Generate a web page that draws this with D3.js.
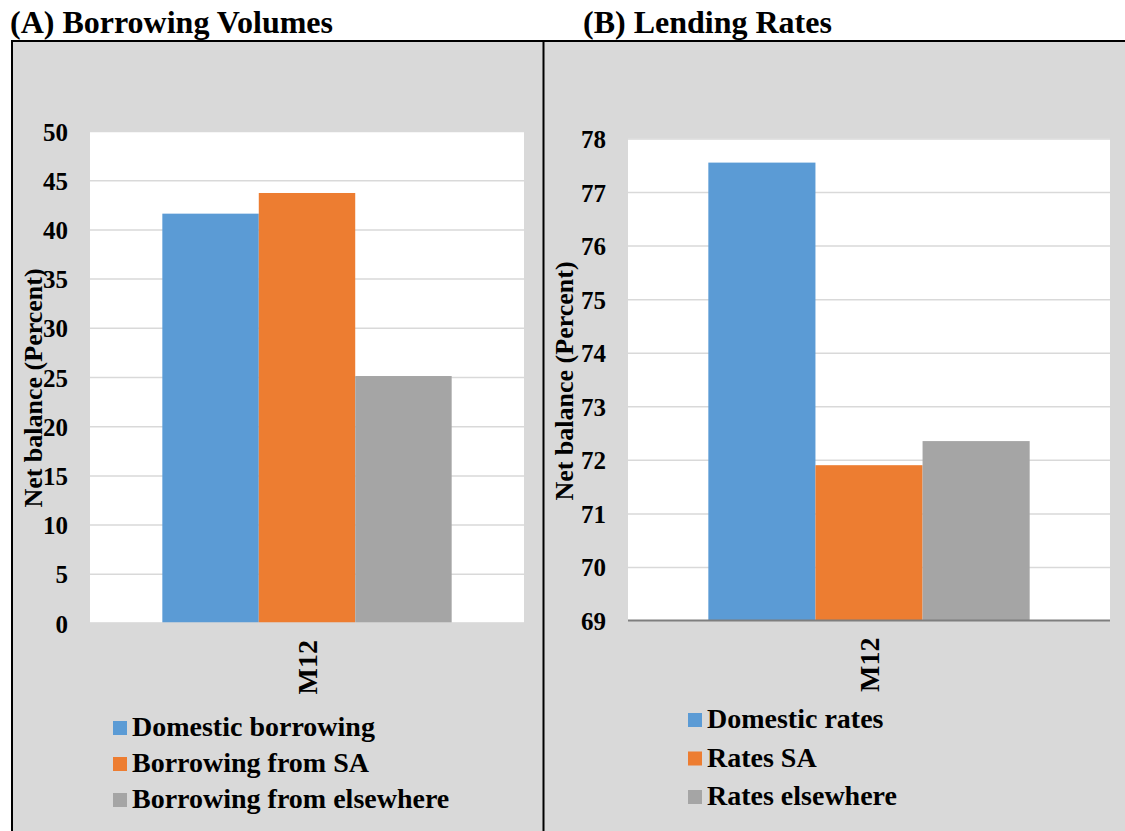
<!DOCTYPE html>
<html>
<head>
<meta charset="utf-8">
<script src="https://cdn.jsdelivr.net/npm/d3@7/dist/d3.min.js"></script>
<style>
  html, body { margin: 0; padding: 0; background: #ffffff; }
  svg { display: block; }
  text { font-family: "Liberation Serif", "Times New Roman", serif; font-weight: bold; fill: #000; }
</style>
</head>
<body>
<svg id="chart" width="1125" height="831"></svg>
<script>
// ---- data ----
const categories = ["M12"];
const seriesColors = ["#5b9bd5", "#ed7d31", "#a5a5a5"];

const borrowingTitle = "(A) Borrowing Volumes";
const borrowingSeries = ["Domestic borrowing", "Borrowing from SA", "Borrowing from elsewhere"];
const borrowingValues = [41.6, 43.7, 25.1];
const borrowingTicks = [0, 5, 10, 15, 20, 25, 30, 35, 40, 45, 50];

const lendingTitle = "(B) Lending Rates";
const lendingSeries = ["Domestic rates", "Rates SA", "Rates elsewhere"];
const lendingValues = [77.55, 71.9, 72.35];
const lendingTicks = [69, 70, 71, 72, 73, 74, 75, 76, 77, 78];

const axisTitle = "Net balance (Percent)";

// ---- layout ----
const svg = d3.select("#chart");
const W = 1125, H = 831;
const frameTop = 41, frameLeft = 12, divider = 543.5;

// grey panel backgrounds
svg.append("rect").attr("x", frameLeft).attr("y", frameTop)
  .attr("width", W - frameLeft).attr("height", H - frameTop).attr("fill", "#d9d9d9");

function drawPanel(cfg) {
  const g = svg.append("g");
  const x0 = cfg.plot.x0, x1 = cfg.plot.x1, y0 = cfg.plot.y0, y1 = cfg.plot.y1;

  // panel heading above the frame
  svg.append("text").attr("x", cfg.titleX).attr("y", 33)
    .style("font-size", "32px").text(cfg.title);

  // white plot area
  g.append("rect").attr("x", x0).attr("y", y0)
    .attr("width", x1 - x0).attr("height", y1 - y0).attr("fill", "#ffffff");

  const y = d3.scaleLinear()
    .domain([cfg.ticks[0], cfg.ticks[cfg.ticks.length - 1]])
    .range([y1, y0]);

  const xBand = d3.scaleBand().domain(categories).range([x0, x1])
    .paddingInner(0).paddingOuter(0.25);
  const xSeries = d3.scaleBand().domain(cfg.series).range([0, xBand.bandwidth()]).padding(0);

  // gridlines + tick labels
  const yAxis = g.append("g").attr("transform", `translate(${x0},0)`)
    .call(d3.axisLeft(y).tickValues(cfg.ticks).tickSize(-(x1 - x0)).tickPadding(22)
      .tickFormat(d3.format("d")));
  yAxis.select(".domain").remove();
  yAxis.selectAll(".tick line").attr("stroke", "#d9d9d9").attr("stroke-width", 1.5);
  yAxis.selectAll(".tick text")
    .attr("dy", "0.36em")
    .style("font-size", "25px")
    .style("font-family", "'Liberation Serif', 'Times New Roman', serif")
    .style("font-weight", "bold")
    .attr("fill", "#000");

  // bars
  g.selectAll("rect.bar")
    .data(cfg.series.map((s, i) => ({ s, v: cfg.values[i], c: seriesColors[i], cat: categories[0] })))
    .join("rect")
    .attr("class", "bar")
    .attr("x", d => xBand(d.cat) + xSeries(d.s))
    .attr("width", xSeries.bandwidth())
    .attr("y", d => y(d.v))
    .attr("height", d => y1 - y(d.v))
    .attr("fill", d => d.c);

  // category axis line
  g.append("line").attr("x1", x0).attr("x2", x1).attr("y1", y1).attr("y2", y1)
    .attr("stroke", cfg.axisColor).attr("stroke-width", cfg.axisWidth);

  // rotated category label
  categories.forEach(c => {
    const cx = xBand(c) + xBand.bandwidth() / 2;
    g.append("text")
      .attr("transform", `translate(${cx + 10},${y1 + 17}) rotate(-90)`)
      .attr("text-anchor", "end")
      .style("font-size", "28px")
      .text(c);
  });

  // value axis title
  g.append("text")
    .attr("transform", `translate(${cfg.axisTitleX},${cfg.axisTitleY}) rotate(-90)`)
    .attr("text-anchor", "middle")
    .style("font-size", "26px")
    .text(axisTitle);

  // legend
  const leg = g.append("g");
  cfg.series.forEach((s, i) => {
    const by = cfg.legend.y + i * cfg.legend.step;
    leg.append("rect").attr("x", cfg.legend.x).attr("y", by - 15)
      .attr("width", 14).attr("height", 14).attr("fill", seriesColors[i]);
    leg.append("text").attr("x", cfg.legend.x + 19).attr("y", by)
      .style("font-size", "28px").text(s);
  });
}

drawPanel({
  title: borrowingTitle, titleX: 10,
  series: borrowingSeries, values: borrowingValues, ticks: borrowingTicks,
  plot: { x0: 90, x1: 524, y0: 131, y1: 623 },
  axisColor: "#d9d9d9", axisWidth: 1.5,
  axisTitleX: 42, axisTitleY: 388,
  legend: { x: 113, y: 736, step: 36 }
});

drawPanel({
  title: lendingTitle, titleX: 583,
  series: lendingSeries, values: lendingValues, ticks: lendingTicks,
  plot: { x0: 628, x1: 1110, y0: 138.5, y1: 620.5 },
  axisColor: "#7f7f7f", axisWidth: 2,
  axisTitleX: 573, axisTitleY: 381,
  legend: { x: 688, y: 728, step: 38.5 }
});

// frame lines
svg.append("line").attr("x1", frameLeft - 1).attr("x2", W).attr("y1", frameTop).attr("y2", frameTop)
  .attr("stroke", "#000").attr("stroke-width", 2);
svg.append("line").attr("x1", frameLeft).attr("x2", frameLeft).attr("y1", frameTop).attr("y2", H)
  .attr("stroke", "#000").attr("stroke-width", 2);
svg.append("line").attr("x1", divider).attr("x2", divider).attr("y1", frameTop).attr("y2", H)
  .attr("stroke", "#000").attr("stroke-width", 2);
</script>
</body>
</html>
